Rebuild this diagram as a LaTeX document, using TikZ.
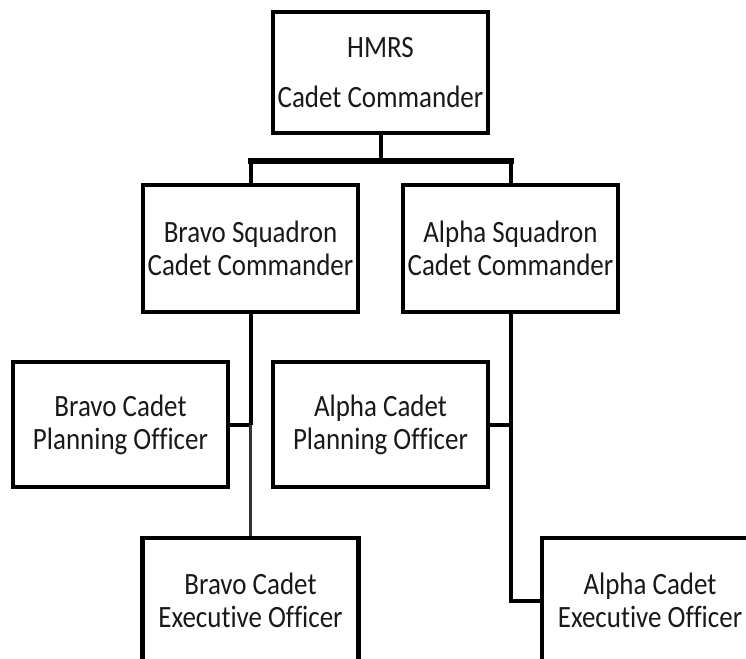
\documentclass[tikz,border=0pt]{standalone}
\usepackage{fontspec}
\setmainfont{Carlito}[FakeStretch=0.87, Ligatures=NoCommon]
\begin{document}
\begin{tikzpicture}[x=1pt,y=-1pt,
  box/.style={draw=black, line width=4.2pt, inner sep=0pt, minimum width=215pt,
    minimum height=125pt, align=center, text=black!90,
    font=\fontsize{31}{33}\selectfont},
  conn/.style={draw=black, line width=4pt},
  thinconn/.style={draw=black!80, line width=2.6pt},
  bar/.style={draw=black, line width=6pt, line cap=rect}]
\useasboundingbox (0,0) rectangle (746,658);
\clip (0,0) rectangle (746,658);
\node[box, minimum height=121pt] (top) at (380.5,72.5) {HMRS\\[17pt]Cadet Commander};
\node[box, minimum height=127pt] (bs) at (250.5,248.5) {Bravo Squadron\\Cadet Commander};
\node[box, minimum height=127pt] (as) at (510.5,248.5) {Alpha Squadron\\Cadet Commander};
\node[box] (bp) at (120.5,424.5) {Bravo Cadet\\Planning Officer};
\node[box] (ap) at (380.5,424.5) {Alpha Cadet\\Planning Officer};
\node[box, minimum width=216pt] (be) at (250.5,600.5) {Bravo Cadet\\Executive Officer};
\node[box, minimum width=216pt] (ae) at (650,600.5) {Alpha Cadet\\Executive Officer};
% top level
\coordinate (j) at (380.5,161);
\draw[conn] (top.south) -- (j);
\draw[bar] (bs.north |- j) -- (as.north |- j);
\draw[conn] (bs.north |- j) -- (bs.north);
\draw[conn] (as.north |- j) -- (as.north);
% bravo branch
\coordinate (bj) at (bs.south |- bp.east);
\draw[conn] (bs.south) -- (bj);
\draw[conn] (bp.east) -- (bj);
\draw[thinconn] (bj) -- (be.north);
% alpha branch
\coordinate (aj) at (as.south |- ap.east);
\coordinate (ak) at (as.south |- ae.west);
\draw[conn] (ap.east) -- (aj);
\draw[conn, line join=miter] (as.south) -- (ak) -- (ae.west);
\end{tikzpicture}
\end{document}
